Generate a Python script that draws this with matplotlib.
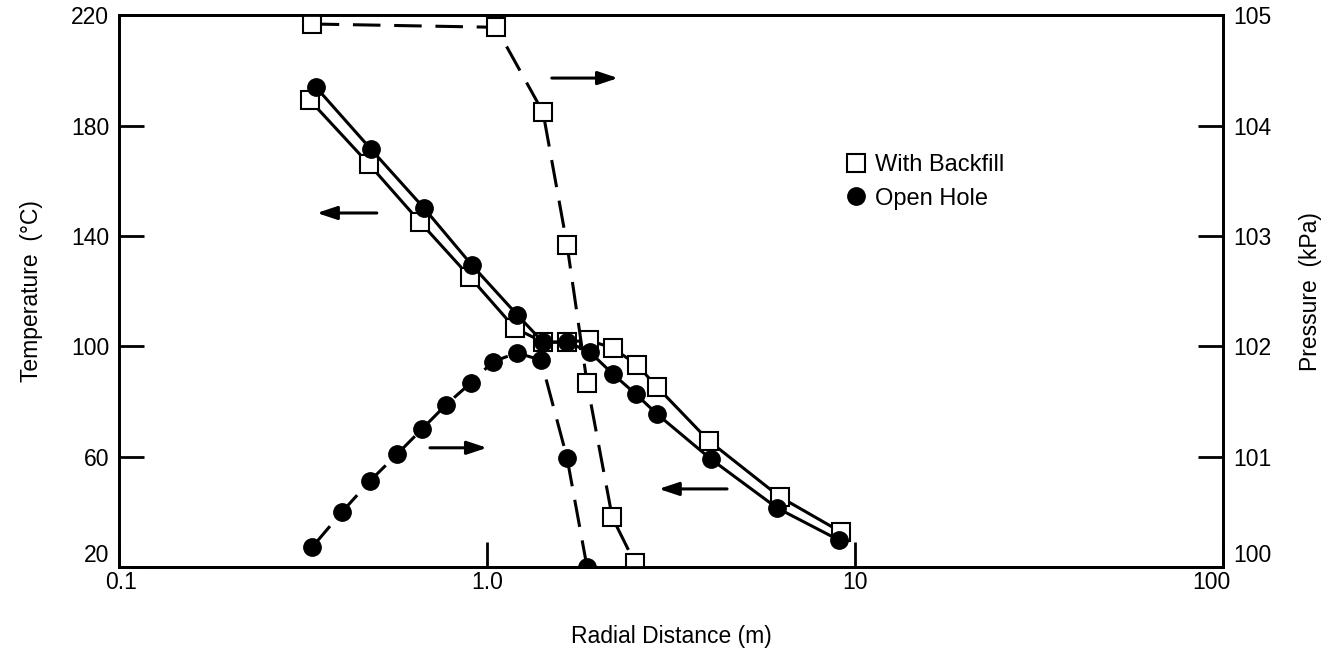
import matplotlib.pyplot as plt
import matplotlib.transforms as mtransforms

plt.rcParams['font.family'] = ['Liberation Sans', 'DejaVu Sans']

# temperature (left axis)
bf_temp_x = [0.330, 0.478, 0.658, 0.899, 1.19, 1.42, 1.65, 1.89, 2.20, 2.56, 2.90, 4.01, 6.25, 9.16]
bf_temp = [189.2, 166.0, 145.0, 125.1, 106.6, 101.5, 101.5, 102.2, 99.3, 93.2, 85.2, 65.7, 45.4, 32.7]
oh_temp_x = [0.343, 0.484, 0.674, 0.910, 1.21, 1.42, 1.65, 1.90, 2.20, 2.54, 2.90, 4.06, 6.14, 9.03]
oh_temp = [193.9, 171.4, 150.1, 129.4, 111.3, 101.5, 101.5, 98.0, 89.9, 82.6, 75.4, 59.1, 41.4, 29.8]

# pressure (right axis)
bf_pres_x = [0.334, 1.058, 1.42, 1.65, 1.87, 2.19, 2.52]
bf_pres = [104.92, 104.89, 104.12, 102.92, 101.67, 100.45, 100.04]
oh_pres_x = [0.335, 0.404, 0.481, 0.569, 0.666, 0.774, 0.905, 1.038, 1.206, 1.402, 1.65, 1.87]
oh_pres = [100.18, 100.50, 100.78, 101.02, 101.25, 101.47, 101.67, 101.86, 101.94, 101.875, 100.99, 100.0]

# direction arrows: (x_from, x_to, y, axis)
arrows = [
    (0.502, 0.345, 148.3, 'temp'),
    (4.49, 2.93, 48.3, 'temp'),
    (1.50, 2.27, 104.43, 'pres'),
    (0.70, 1.00, 101.08, 'pres'),
]

fig = plt.figure(figsize=(13.44, 6.59), dpi=100)
ax = fig.add_axes([0.0885, 0.1396, 0.8215, 0.8374])
ax2 = ax.twinx()

lw = 2.2
ax.plot(bf_temp_x, bf_temp, '-', color='black', lw=lw, marker='s', ms=12.5,
        mfc='white', mec='black', mew=1.5)
ax.plot(oh_temp_x, oh_temp, '-', color='black', lw=lw, marker='o', ms=12.5,
        mfc='black', mec='black')

ax2.plot(bf_pres_x, bf_pres, color='black', lw=lw, dashes=(9, 4.5), marker='s', ms=12.5,
         mfc='white', mec='black', mew=1.5)
ax2.plot(oh_pres_x, oh_pres, color='black', lw=lw, dashes=(9, 4.5), marker='o', ms=12.5,
         mfc='black', mec='black')

for x0, x1, y, which in arrows:
    target = ax if which == 'temp' else ax2
    target.annotate('', xy=(x1, y), xytext=(x0, y),
                    arrowprops=dict(arrowstyle='-|>,head_length=0.6,head_width=0.2',
                                    color='black', lw=2.2,
                                    mutation_scale=20, shrinkA=0, shrinkB=0))

ax.set_xscale('log')
ax.set_xlim(0.1, 100)
ax.set_ylim(20, 220)
ax2.set_ylim(100, 105)

ax.set_xticks([0.1, 1, 10, 100])
ax.set_xticklabels(['0.1', '1.0', '10', '100'])
ax.xaxis.set_minor_locator(plt.NullLocator())
ax.set_yticks([20, 60, 100, 140, 180, 220])
ax2.set_yticks([100, 101, 102, 103, 104, 105])

ax.tick_params(axis='both', direction='in', length=18, width=2, labelsize=16.5)
ax.tick_params(axis='x', pad=3)
ax.tick_params(axis='y', pad=7)
ax2.tick_params(axis='y', direction='in', length=18, width=2, labelsize=16.5, pad=7)

for a in (ax, ax2):
    for s in a.spines.values():
        s.set_linewidth(2)

# keep the corner labels apart, as in the original
fig.canvas.draw()
ax.get_yticklabels()[0].set_verticalalignment('bottom')
ax2.get_yticklabels()[0].set_verticalalignment('bottom')
xl = ax.get_xticklabels()
xl[0].set_transform(xl[0].get_transform() + mtransforms.ScaledTranslation(0.02, 0, fig.dpi_scale_trans))
xl[-1].set_transform(xl[-1].get_transform() + mtransforms.ScaledTranslation(-0.12, 0, fig.dpi_scale_trans))

ax.set_xlabel('Radial Distance (m)', fontsize=16.5, labelpad=22)
ax.set_ylabel('Temperature  (°C)', fontsize=16.5, labelpad=20)
ax2.set_ylabel('Pressure  (kPa)', fontsize=16.5, rotation=90, labelpad=20)

# legend
h1, = ax.plot([], [], 's', ms=12.5, mfc='white', mec='black', mew=1.5)
h2, = ax.plot([], [], 'o', ms=12.5, mfc='black', mec='black')
ax.legend([h1, h2], ['With Backfill', 'Open Hole'], loc='upper left',
          bbox_to_anchor=(0.64, 0.787), frameon=False, fontsize=17,
          handlelength=0.8, handletextpad=0.4, labelspacing=0.5)

fig.savefig('out.png', dpi=100)
